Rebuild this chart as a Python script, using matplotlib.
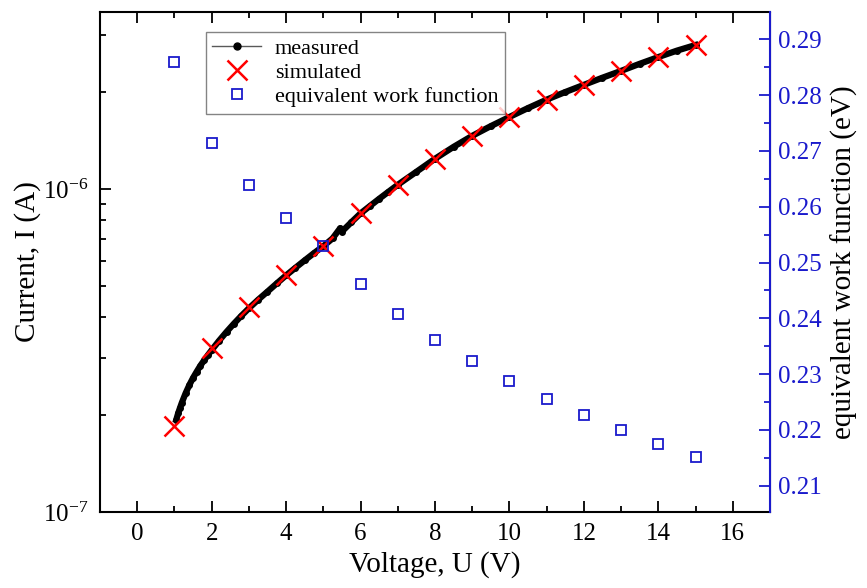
import matplotlib
matplotlib.use("Agg")
import matplotlib.pyplot as plt
from matplotlib.lines import Line2D
from matplotlib.ticker import MultipleLocator, LogLocator, FixedFormatter, FixedLocator

plt.rcParams['font.family'] = ['Liberation Serif', 'DejaVu Serif']
plt.rcParams['mathtext.fontset'] = 'stix'

# measured I-V curve
meas_u = [1.05, 1.1, 1.15, 1.2, 1.3, 1.4, 1.5, 1.6, 1.7, 1.8, 1.9, 2.0,
          2.2, 2.4, 2.6, 2.8, 3.0, 3.25, 3.5, 3.75, 4.0, 4.25, 4.5, 4.75,
          5.0, 5.25, 5.45, 5.5, 5.75, 6.0, 6.25, 6.5, 6.75, 7.0, 7.5, 8.0,
          8.5, 9.0, 9.5, 10.0, 10.5, 11.0, 11.5, 12.0, 12.5, 13.0, 13.5,
          14.0, 14.5, 15.0]
meas_i = [1.93e-7, 2.02e-7, 2.10e-7, 2.18e-7, 2.33e-7, 2.47e-7, 2.60e-7,
          2.72e-7, 2.84e-7, 2.95e-7, 3.06e-7, 3.17e-7, 3.39e-7, 3.61e-7,
          3.83e-7, 4.05e-7, 4.27e-7, 4.54e-7, 4.81e-7, 5.10e-7, 5.40e-7,
          5.70e-7, 6.01e-7, 6.33e-7, 6.65e-7, 7.03e-7, 7.55e-7, 7.38e-7,
          7.88e-7, 8.40e-7, 8.85e-7, 9.32e-7, 9.80e-7, 1.03e-6, 1.13e-6,
          1.24e-6, 1.35e-6, 1.46e-6, 1.565e-6, 1.67e-6, 1.78e-6, 1.89e-6,
          1.995e-6, 2.10e-6, 2.21e-6, 2.32e-6, 2.44e-6, 2.56e-6, 2.68e-6,
          2.79e-6]

# simulated points
sim_u = [1, 2, 3, 4, 5, 6, 7, 8, 9, 10, 11, 12, 13, 14, 15]
sim_i = [1.85e-7, 3.22e-7, 4.30e-7, 5.42e-7, 6.66e-7, 8.43e-7, 1.03e-6,
         1.24e-6, 1.46e-6, 1.67e-6, 1.89e-6, 2.10e-6, 2.32e-6, 2.56e-6,
         2.79e-6]

# equivalent work function (eV)
wf = [0.2859, 0.2714, 0.2639, 0.2580, 0.2529, 0.2462, 0.2408, 0.2362,
      0.2324, 0.2288, 0.2256, 0.2227, 0.2200, 0.2174, 0.2151]

blue = '#1a1acc'

fig = plt.figure(figsize=(8.67, 5.88), dpi=100)
ax = fig.add_axes([0.1153, 0.1293, 0.7728, 0.8503])
ax2 = ax.twinx()

ax.plot(meas_u, meas_i, color='black', lw=4.5, marker='o', ms=4, zorder=3)
ax.plot(sim_u, sim_i, linestyle='none', marker='x', ms=15, mew=1.8,
        color='red', zorder=4)
ax2.plot(sim_u, wf, linestyle='none', marker='s', ms=7, mew=1.3,
         mfc='none', mec=blue)

ax.set_yscale('log')
ax.set_xlim(-1, 17)
ax.set_ylim(1e-7, 3.53e-6)
ax2.set_ylim(0.2053, 0.2949)

ax.xaxis.set_major_locator(MultipleLocator(2))
ax.xaxis.set_minor_locator(MultipleLocator(1))
ax.yaxis.set_major_locator(FixedLocator([1e-7, 1e-6]))
ax.yaxis.set_major_formatter(FixedFormatter([r'10$^{\mathregular{-7}}$',
                                             r'10$^{\mathregular{-6}}$']))
ax.yaxis.set_minor_locator(LogLocator(base=10, subs=range(2, 10)))
ax.yaxis.set_minor_formatter(plt.NullFormatter())

ax2.yaxis.set_major_locator(MultipleLocator(0.01))
ax2.yaxis.set_minor_locator(MultipleLocator(0.005))
ax2.yaxis.set_major_formatter(plt.FormatStrFormatter('%.2f'))

ax.tick_params(which='both', direction='in', top=True, right=False,
               labelsize=18, width=1.3)
ax.tick_params(which='major', length=8, pad=8)
ax.tick_params(which='minor', length=4)
ax2.tick_params(which='both', direction='in', colors=blue,
                labelsize=18, width=1.3)
ax2.tick_params(which='major', length=8, pad=6)
ax2.tick_params(which='minor', length=4)

for s in ['left', 'bottom', 'top']:
    ax.spines[s].set_linewidth(1.5)
ax2.spines['right'].set_color(blue)
ax2.spines['right'].set_linewidth(1.5)
ax2.spines['left'].set_visible(False)
ax2.spines['top'].set_visible(False)
ax2.spines['bottom'].set_visible(False)

ax.set_xlabel('Voltage, U (V)', fontsize=21, labelpad=4)
ax.set_ylabel('Current, I (A)', fontsize=21, labelpad=2)
ax2.set_ylabel('equivalent work function (eV)', fontsize=21, labelpad=6,
               color='black')

handles = [
    Line2D([], [], color='0.35', lw=1, marker='o', ms=5, mfc='black', mec='black'),
    Line2D([], [], color='red', ls='none', marker='x', ms=15, mew=1.8),
    Line2D([], [], color=blue, ls='none', marker='s', ms=7, mew=1.3, mfc='none'),
]
leg = ax2.legend(handles, ['measured', 'simulated', 'equivalent work function'],
                 loc='upper left', bbox_to_anchor=(0.158, 0.96), fontsize=16,
                 frameon=True, fancybox=False, edgecolor='0.4',
                 handlelength=2.2, labelspacing=0.15, borderpad=0.3,
                 handletextpad=0.6, borderaxespad=0)
leg.get_frame().set_linewidth(1)

fig.savefig('out.png', dpi=100)
